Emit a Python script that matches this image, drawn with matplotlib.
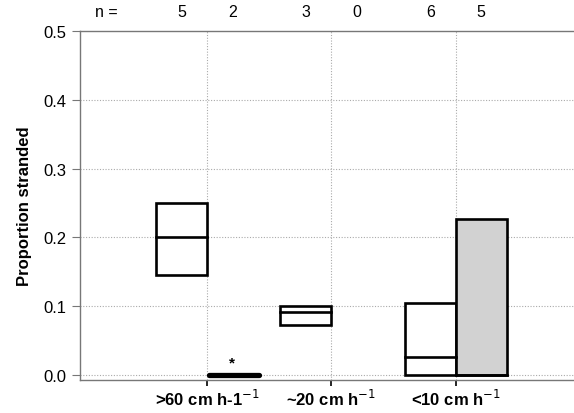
import matplotlib
matplotlib.use("Agg")
import matplotlib.pyplot as plt
from matplotlib.patches import Rectangle

plt.rcParams["font.family"] = ["Liberation Sans", "DejaVu Sans"]

categories = [">60 cm h-1$^{-1}$", "~20 cm h$^{-1}$", "<10 cm h$^{-1}$"]
n_left = [5, 3, 6]
n_right = [2, 0, 5]
# white boxes (left of tick): low, median, high
left_low = [0.145, 0.072, 0.0]
left_med = [0.200, 0.091, 0.026]
left_high = [0.250, 0.100, 0.105]
# right boxes (right of tick); None = no data
right_low = [0.0, None, 0.0]
right_med = [0.0, None, 0.0]
right_high = [0.0, None, 0.227]
right_fill = ["black", None, "#d2d2d2"]
star_y = 0.018

fig = plt.figure(figsize=(5.74, 4.14), dpi=100)
ax = fig.add_axes([80/574, 33/414, 1 - 80/574, 349/414])
ax.set_xlim(-0.02, 3.95)
ax.set_ylim(-0.0075, 0.5)

w = 0.41
xs = [1, 2, 3]
lw = 1.9
for i, x in enumerate(xs):
    ax.add_patch(Rectangle((x - w, left_low[i]), w, left_high[i] - left_low[i],
                           facecolor="white", edgecolor="black", lw=lw, zorder=3))
    ax.plot([x - w, x], [left_med[i], left_med[i]], color="black", lw=lw, zorder=4)
    if right_high[i] is not None:
        h = right_high[i] - right_low[i]
        if h == 0:
            ax.plot([x + 0.02, x + w + 0.01], [right_low[i], right_low[i]], color="black", lw=3.8,
                    solid_capstyle="round", zorder=4)
        else:
            ax.add_patch(Rectangle((x, right_low[i]), w, h, facecolor=right_fill[i],
                                   edgecolor="black", lw=lw, zorder=3))
            ax.plot([x, x + w], [right_med[i], right_med[i]], color="black", lw=lw, zorder=4)

ax.text(1 + w / 2, star_y, "*", ha="center", va="center", fontsize=11, fontweight="bold")

# n labels
ax.text(0.19, 0.529, "n =", ha="center", va="center", fontsize=11.5)
for i, x in enumerate(xs):
    ax.text(x - w / 2, 0.529, str(n_left[i]), ha="center", va="center", fontsize=11.5)
    ax.text(x + w / 2, 0.529, str(n_right[i]), ha="center", va="center", fontsize=11.5)

# grid
for y in [0.0, 0.1, 0.2, 0.3, 0.4]:
    ax.axhline(y, color="#aaaaaa", lw=0.8, ls=(0, (1, 1.5)), zorder=1)
for x in xs:
    ax.axvline(x, color="#aaaaaa", lw=0.8, ls=(0, (1, 1.5)), zorder=1)

ax.set_yticks([0.0, 0.1, 0.2, 0.3, 0.4, 0.5])
ax.set_yticklabels(["0.0", "0.1", "0.2", "0.3", "0.4", "0.5"], fontsize=12)
ax.set_xticks(xs)
ax.set_xticklabels(categories, fontsize=12, fontweight="bold")
ax.tick_params(axis="y", length=6, color="#777777", width=0.8, pad=4)
ax.tick_params(axis="x", length=4, color="black", width=1.2, pad=2)
ax.set_ylabel("Proportion stranded", fontsize=12, fontweight="bold", labelpad=8)

for s in ["left", "bottom", "top"]:
    ax.spines[s].set_color("#777777")
    ax.spines[s].set_linewidth(1.0)
ax.spines["right"].set_visible(False)

fig.savefig("out.png", dpi=100)
